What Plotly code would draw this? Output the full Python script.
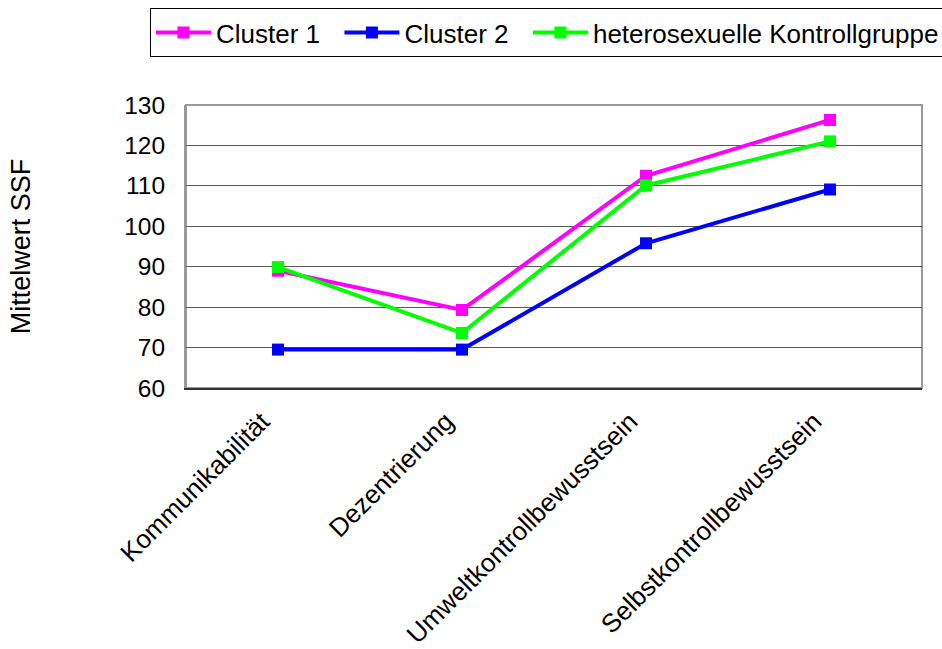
import plotly.graph_objects as go

categories = ["Kommunikabilität", "Dezentrierung", "Umweltkontrollbewusstsein", "Selbstkontrollbewusstsein"]
cluster1 = [89.0, 79.3, 112.5, 126.3]
cluster2 = [69.5, 69.5, 95.8, 109.1]
kontroll = [89.9, 73.6, 110.1, 121.0]
series_names = ["Cluster 1", "Cluster 2", "heterosexuelle Kontrollgruppe"]
colors = ["#FF00FF", "#0000FF", "#00FF00"]
y_ticks = [60, 70, 80, 90, 100, 110, 120, 130]

FONT = "Arial, 'Liberation Sans', sans-serif"
NB = "\u00a0"

fig = go.Figure()
for i, (name, vals, col) in enumerate(zip(series_names, [cluster1, cluster2, kontroll], colors)):
    pad = NB * 2 if i < len(series_names) - 1 else ""
    fig.add_trace(go.Scatter(
        x=categories, y=vals, name=name + pad, mode="lines+markers",
        line=dict(color=col, width=4),
        marker=dict(symbol="square", size=12, color=col),
    ))

fig.update_layout(
    width=942, height=649,
    margin=dict(l=186, r=20, t=105, b=261, autoexpand=False),
    paper_bgcolor="white", plot_bgcolor="white",
    font=dict(family=FONT, size=24, color="black"),
    showlegend=True,
    legend=dict(
        orientation="h", x=-0.049, xanchor="left", y=1.342, yanchor="top",
        bordercolor="black", borderwidth=1, font=dict(size=26),
        itemwidth=55, tracegroupgap=0,
    ),
    xaxis=dict(
        type="category", range=[-0.5, 3.5], tickangle=-45,
        showgrid=False, showline=True, linecolor="#333333", linewidth=2,
        ticks="", tickfont=dict(size=26), ticklabelstandoff=6, ticklabelshift=-16,
    ),
    yaxis=dict(
        range=[60, 130], tickvals=y_ticks, showgrid=True, gridcolor="#5a5a5a", gridwidth=1,
        showline=True, linecolor="#999999", linewidth=2, mirror=False,
        ticks="", tickfont=dict(size=24.5), ticklabelstandoff=14, zeroline=False,
        title=dict(text="Mittelwert SSF", font=dict(size=27), standoff=86),
    ),
)
# plot-area border (top and right)
fig.add_shape(type="rect", xref="paper", yref="paper", x0=0, x1=1, y0=0, y1=1,
              line=dict(color="#999999", width=2), layer="below")

fig.write_html(
    "out.html",
    config={"displayModeBar": False},
    post_script="document.body.style.margin='0';document.body.style.overflow='hidden';",
)
